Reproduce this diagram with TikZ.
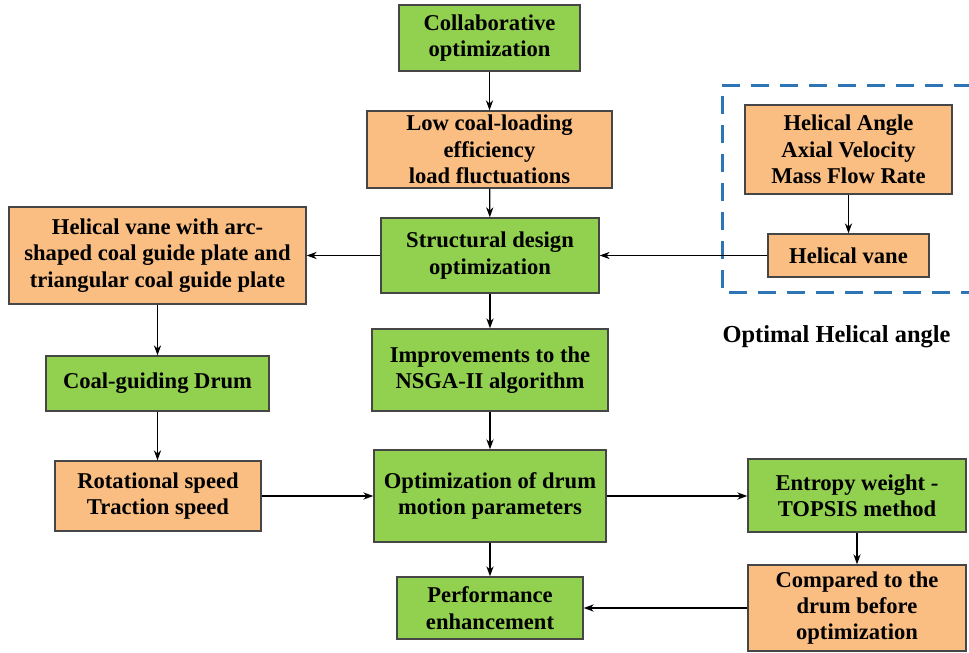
\documentclass[tikz,border=0pt]{standalone}
\usepackage{fontspec}
\setmainfont{Liberation Serif}
\usetikzlibrary{arrows.meta}
\definecolor{boxgreen}{RGB}{146,208,80}
\definecolor{boxorange}{RGB}{250,189,130}
\definecolor{edgegray}{RGB}{70,70,70}
\definecolor{dashblue}{RGB}{46,117,182}
\begin{document}
\begin{tikzpicture}[x=0.5pt,y=-0.5pt,
  font=\fontsize{11.3}{13.2}\selectfont\bfseries,
  box/.style={draw=edgegray, line width=0.7pt, align=center, inner sep=0pt, text=black},
  gbox/.style={box, fill=boxgreen},
  obox/.style={box, fill=boxorange},
  arr/.style={-{Stealth[length=5pt,width=3.6pt]}, line width=0.6pt, black},
  grp/.style={dashblue, line width=1.5pt, dash pattern=on 9pt off 5.5pt}]
\useasboundingbox (0,0) rectangle (969,653);
\fill[white] (0,0) rectangle (969,653);

\node[gbox, minimum width=90.5pt, minimum height=33pt] (collab) at (489.5,38) {Collaborative\\optimization};
\node[obox, minimum width=122.5pt, minimum height=38.5pt] (low) at (489.5,149.5) {Low coal-loading\\efficiency\\load fluctuations};
\node[gbox, minimum width=109pt, minimum height=37.5pt] (struct) at (490,255.5) {Structural design\\optimization};
\node[obox, minimum width=148.5pt, minimum height=48.5pt] (arc) at (157.5,255.5) {Helical vane with arc-\\shaped coal guide plate and\\triangular coal guide plate};
\node[obox, minimum width=103.5pt, minimum height=44.5pt] (angle) at (848.5,149.5) {Helical Angle\\Axial Velocity\\Mass Flow Rate};
\node[obox, minimum width=80.5pt, minimum height=21.5pt] (vane) at (848.5,255.5) {Helical vane};
\node[gbox, minimum width=118pt, minimum height=41pt] (nsga) at (490,370) {Improvements to the\\NSGA-II algorithm};
\node[gbox, minimum width=111.5pt, minimum height=27.5pt] (drum) at (157.5,383.5) {Coal-guiding Drum};
\node[obox, minimum width=103pt, minimum height=35pt] (speed) at (158,496) {Rotational speed\\Traction speed};
\node[gbox, minimum width=116pt, minimum height=46pt] (opt) at (490,496) {Optimization of drum\\motion parameters};
\node[gbox, minimum width=109pt, minimum height=36.5pt] (entropy) at (857,495.5) {Entropy weight -\\TOPSIS method};
\node[gbox, minimum width=93pt, minimum height=31pt] (perf) at (490,608) {Performance\\enhancement};
\node[obox, minimum width=109pt, minimum height=43pt] (comp) at (857,608) {Compared to the\\drum before\\optimization};

\node[font=\fontsize{12.2}{14}\selectfont\bfseries] (optimal) at (836.5,337) {Optimal Helical angle};

\coordinate (g1) at (972,85);
\coordinate (g2) at (722,85);
\coordinate (g3) at (722,292);
\coordinate (g4) at (972,292);
\draw[grp] (g1) -- (g2) -- (g3) -- (g4);

\draw[arr] (collab) -- (low);
\draw[arr] (low) -- (struct);
\draw[arr] (struct) -- (arc);
\draw[arr] (vane) -- (struct);
\draw[arr] (angle) -- (vane);
\draw[arr] (struct) -- (nsga);
\draw[arr] (arc) -- (drum);
\draw[arr] (drum.south) -- (speed.north -| drum.south);
\draw[arr] (nsga) -- (opt);
\draw[arr] (speed.east) -- (opt.west |- speed.east);
\draw[arr] (opt.east) -- (entropy.west |- opt.east);
\draw[arr] (entropy) -- (comp);
\draw[arr] (comp) -- (perf);
\draw[arr] (opt) -- (perf);
\end{tikzpicture}
\end{document}
